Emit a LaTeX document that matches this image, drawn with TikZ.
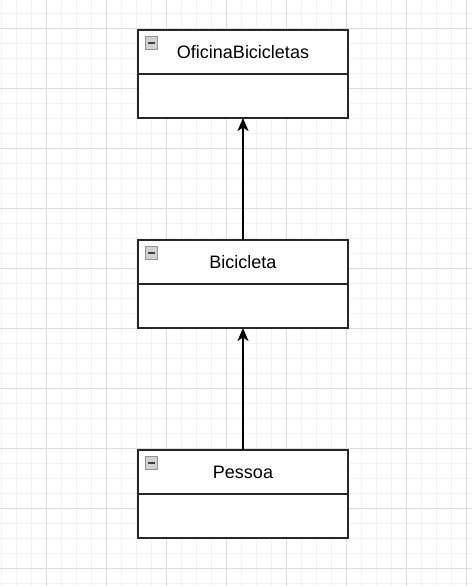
\documentclass[tikz,border=0pt]{standalone}
\usepackage{fontspec}
\setmainfont{Liberation Sans}
\usetikzlibrary{arrows.meta,positioning}
\definecolor{gridminor}{HTML}{F3F3F3}
\definecolor{gridmajor}{HTML}{DCDCDC}
\definecolor{boxline}{HTML}{262626}
\tikzset{
	classhead/.style={draw=boxline, line width=1.5pt, fill=white, minimum width=210pt, minimum height=44pt, inner sep=0pt, outer sep=0pt, font=\fontsize{18}{20}\selectfont},
	classbody/.style={draw=boxline, line width=1.5pt, fill=white, minimum width=210pt, minimum height=44pt, inner sep=0pt, outer sep=0pt},
	foldicon/.style={draw=gray!85, fill=gray!35, line width=0.8pt, minimum size=12.5pt, inner sep=0pt,
		path picture={\draw[line width=1.8pt, black!75] ([xshift=-3.5pt]path picture bounding box.center) -- ([xshift=3.5pt]path picture bounding box.center);}},
	assoc/.style={-{Stealth[length=13pt,width=11pt,inset=3.5pt]}, line width=1.5pt, black}
}
\begin{document}
\begin{tikzpicture}[x=1pt, y=-1pt]
		\useasboundingbox (0,0) rectangle (472,586);
		\fill[white] (0,0) rectangle (472,586);
		\foreach \gx in {1,16,...,472} \draw[gridminor, line width=0.8pt] (\gx,0) -- (\gx,586);
		\foreach \gy in {13,28,...,586} \draw[gridminor, line width=0.8pt] (0,\gy) -- (472,\gy);
		\foreach \gx in {46,106,...,472} \draw[gridmajor, line width=0.8pt] (\gx,0) -- (\gx,586);
		\foreach \gy in {28,88,...,586} \draw[gridmajor, line width=0.8pt] (0,\gy) -- (472,\gy);

		\node [classhead] (oficina) at (243,52)  {OficinaBicicletas};
		\node [classbody, below=0pt of oficina] (oficinabody)  {};
		\node [foldicon] (oficinaicon) at (151.5,43)  {};

		\node [classhead] (bicicleta) at (243,262)  {Bicicleta};
		\node [classbody, below=0pt of bicicleta] (bicicletabody)  {};
		\node [foldicon] (bicicletaicon) at (151.5,253)  {};

		\node [classhead] (pessoa) at (243,472)  {Pessoa};
		\node [classbody, below=0pt of pessoa] (pessoabody)  {};
		\node [foldicon] (pessoaicon) at (151.5,463)  {};

		\draw [assoc] (bicicleta.north) -- (oficinabody.south);
		\draw [assoc] (pessoa.north) -- (bicicletabody.south);
	\end{tikzpicture}
\end{document}
